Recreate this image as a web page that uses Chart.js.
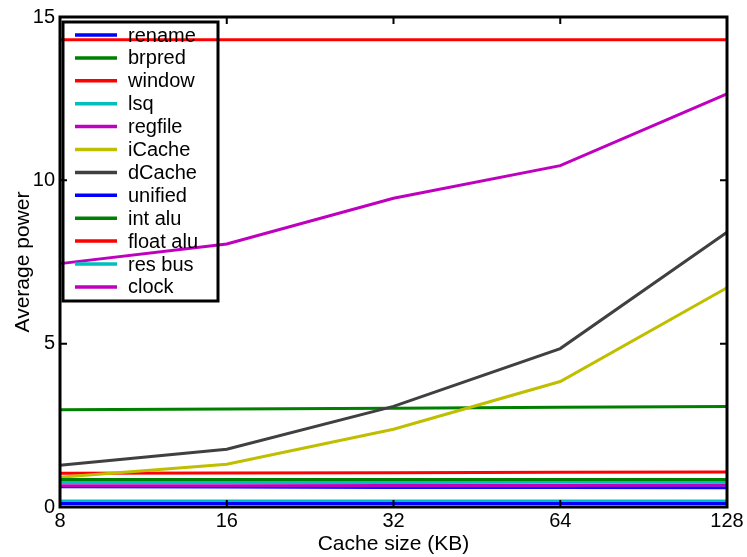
<!DOCTYPE html>
<html>
<head>
<meta charset="utf-8">
<script src="https://cdn.jsdelivr.net/npm/chart.js@4/dist/chart.umd.min.js"></script>
<style>
  html, body { margin: 0; padding: 0; background: #fff; }
  #wrap { width: 747px; height: 557px; }
</style>
</head>
<body>
<div id="wrap"><canvas id="chart"></canvas></div>
<script>
// cache sizes (KB) and per-component average power
const cacheSizes = ['8', '16', '32', '64', '128'];

const rename   = [0.11, 0.11, 0.11, 0.11, 0.11];
const brpred   = [0.84, 0.84, 0.84, 0.84, 0.84];
const windowP  = [14.3, 14.3, 14.3, 14.3, 14.3];
const lsq      = [0.75, 0.75, 0.75, 0.76, 0.76];
const regfile  = [0.65, 0.65, 0.66, 0.66, 0.67];
const iCache   = [0.91, 1.31, 2.38, 3.84, 6.71];
const dCache   = [1.28, 1.77, 3.08, 4.85, 8.41];
const unified  = [0.62, 0.61, 0.6, 0.6, 0.59];
const intAlu   = [2.98, 3.0, 3.02, 3.05, 3.08];
const floatAlu = [1.03, 1.04, 1.05, 1.06, 1.07];
const resBus   = [0.18, 0.18, 0.18, 0.18, 0.18];
const clock    = [7.45, 8.05, 9.45, 10.45, 12.65];

const colors = {
    blue: '#0000ff',
    green: '#008000',
    red: '#ff0000',
    cyan: '#00bfbf',
    magenta: '#bf00bf',
    yellow: '#bfbf00',
    gray: '#404040'
};

const series = [
    { label: 'rename', data: rename, color: colors.blue },
    { label: 'brpred', data: brpred, color: colors.green },
    { label: 'window', data: windowP, color: colors.red },
    { label: 'lsq', data: lsq, color: colors.cyan },
    { label: 'regfile', data: regfile, color: colors.magenta },
    { label: 'iCache', data: iCache, color: colors.yellow },
    { label: 'dCache', data: dCache, color: colors.gray },
    { label: 'unified', data: unified, color: colors.blue },
    { label: 'int alu', data: intAlu, color: colors.green },
    { label: 'float alu', data: floatAlu, color: colors.red },
    { label: 'res bus', data: resBus, color: colors.cyan },
    { label: 'clock', data: clock, color: colors.magenta }
];

const FONT = 'Liberation Sans, Arial, sans-serif';

// black box, inward ticks and boxed legend, matlab style
const matlabFrame = {
    id: 'matlabFrame',
    afterDatasetsDraw(chart) {
        const { ctx, chartArea: a, scales } = chart;
        ctx.save();
        ctx.strokeStyle = '#000';
        ctx.lineWidth = 3;
        ctx.strokeRect(a.left, a.top, a.right - a.left, a.bottom - a.top);

        ctx.lineWidth = 2;
        const tl = 7;
        ctx.beginPath();
        scales.x.ticks.forEach((t, i) => {
            const x = scales.x.getPixelForTick(i);
            ctx.moveTo(x, a.bottom); ctx.lineTo(x, a.bottom - tl);
            ctx.moveTo(x, a.top); ctx.lineTo(x, a.top + tl);
        });
        scales.y.ticks.forEach((t, i) => {
            const y = scales.y.getPixelForTick(i);
            ctx.moveTo(a.left, y); ctx.lineTo(a.left + tl, y);
            ctx.moveTo(a.right, y); ctx.lineTo(a.right - tl, y);
        });
        ctx.stroke();

        // legend
        const bx = a.left + 3, by = a.top + 5, bw = 155, bh = 279;
        const rowH = 22.9;
        ctx.lineWidth = 3;
        ctx.strokeRect(bx, by, bw, bh);
        ctx.font = '20px ' + FONT;
        ctx.textBaseline = 'middle';
        chart.data.datasets.forEach((ds, i) => {
            const y = by + 13 + i * rowH;
            ctx.strokeStyle = ds.borderColor;
            ctx.lineWidth = 3.5;
            ctx.beginPath();
            ctx.moveTo(bx + 12, y);
            ctx.lineTo(bx + 54, y);
            ctx.stroke();
            ctx.fillStyle = '#000';
            ctx.fillText(ds.label, bx + 65, y + 1);
        });
        ctx.restore();
    }
};

new Chart(document.getElementById('chart'), {
    type: 'line',
    data: {
        labels: cacheSizes,
        datasets: series.map(s => ({
            label: s.label,
            data: s.data,
            borderColor: s.color,
            backgroundColor: s.color,
            borderWidth: 3,
            pointRadius: 0,
            tension: 0,
            fill: false
        }))
    },
    options: {
        responsive: true,
        maintainAspectRatio: false,
        animation: false,
        layout: { padding: { top: 13, right: 20, left: 0, bottom: 0 } },
        plugins: {
            legend: { display: false },
            tooltip: { enabled: false }
        },
        scales: {
            x: {
                offset: false,
                grid: { display: false, drawTicks: false },
                border: { display: false },
                ticks: {
                    color: '#000',
                    padding: 2,
                    maxRotation: 0,
                    font: { family: FONT, size: 20 }
                },
                title: {
                    display: true,
                    text: 'Cache size (KB)',
                    color: '#000',
                    padding: { top: 0, bottom: 0 },
                    font: { family: FONT, size: 21 }
                },
                afterFit(scale) { scale.height = 50; }
            },
            y: {
                min: 0,
                max: 15,
                grid: { display: false, drawTicks: false },
                border: { display: false },
                ticks: {
                    stepSize: 5,
                    color: '#000',
                    padding: 5,
                    font: { family: FONT, size: 20 }
                },
                title: {
                    display: true,
                    text: 'Average power',
                    color: '#000',
                    padding: { top: 11, bottom: 0 },
                    font: { family: FONT, size: 21 }
                },
                afterFit(scale) { scale.width = 60; }
            }
        }
    },
    plugins: [matlabFrame]
});
</script>
</body>
</html>
